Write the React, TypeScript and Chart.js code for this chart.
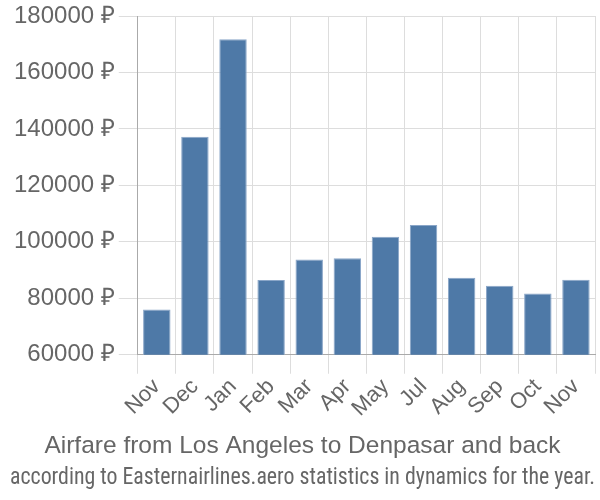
import React, { useEffect, useRef } from "react";
import { Chart, registerables } from "chart.js";

Chart.register(...registerables);

const categories = ["Nov", "Dec", "Jan", "Feb", "Mar", "Apr", "May", "Jul", "Aug", "Sep", "Oct", "Nov"];
const prices = [76000, 137200, 171800, 86500, 93700, 94200, 101800, 106000, 87300, 84400, 81700, 86600];
const yTicks = { min: 60000, max: 180000, step: 20000 };
const titleText = "Airfare from Los Angeles to Denpasar and back";
const subtitleText = "according to Easternairlines.aero statistics in dynamics for the year.";

export default function App() {
  const ref = useRef<HTMLCanvasElement | null>(null);
  useEffect(() => {
    if (!ref.current) return;
    const font = "'Liberation Sans', Arial, sans-serif";
    const narrow = "'Liberation Sans Narrow', 'Roboto Condensed', 'Liberation Sans', sans-serif";
    const chart = new Chart(ref.current, {
      type: "bar",
      data: {
        labels: categories,
        datasets: [
          {
            data: prices,
            backgroundColor: "#4e79a7",
            borderColor: "#8aa6c8",
            borderWidth: 1,
            barPercentage: 0.72,
            categoryPercentage: 1,
          },
        ],
      },
      options: {
        animation: false,
        responsive: false,
        maintainAspectRatio: false,
        layout: { padding: { left: 10, right: 5, top: 2, bottom: 8 } },
        plugins: {
          legend: { display: false },
          tooltip: { enabled: false },
          title: {
            display: true,
            text: titleText,
            position: "bottom",
            weight: 1000,
            color: "#666",
            font: { family: font, size: 24.5, weight: "normal" },
            padding: { top: 10, bottom: 0 },
          },
          subtitle: {
            display: true,
            text: subtitleText,
            position: "bottom",
            weight: 2000,
            color: "#666",
            font: { family: narrow, size: 24, weight: "normal" },
            padding: { top: 2, bottom: 0 },
          },
        },
        scales: {
          x: {
            grid: { color: "#ddd", lineWidth: 1, offset: true, tickLength: 19 },
            border: { color: "#aaa" },
            ticks: {
              color: "#666",
              font: { family: font, size: 22 },
              maxRotation: 45,
              minRotation: 45,
              autoSkip: false,
              padding: 0,
            },
          },
          y: {
            min: yTicks.min,
            max: yTicks.max,
            grid: { color: "#ddd", lineWidth: 1, tickLength: 19 },
            border: { color: "#aaa", width: 1 },
            ticks: {
              stepSize: yTicks.step,
              color: "#666",
              font: { family: font, size: 24, lineHeight: 1 },
              padding: 4,
              callback: (v: any) => v + " ₽",
            },
          },
        },
      },
    });
    return () => chart.destroy();
  }, []);
  return (
    <div style={{ position: "fixed", left: 0, top: 0, width: 600, height: 500 }}>
      <canvas ref={ref} width={600} height={500} style={{ width: 600, height: 500 }} />
    </div>
  );
}
